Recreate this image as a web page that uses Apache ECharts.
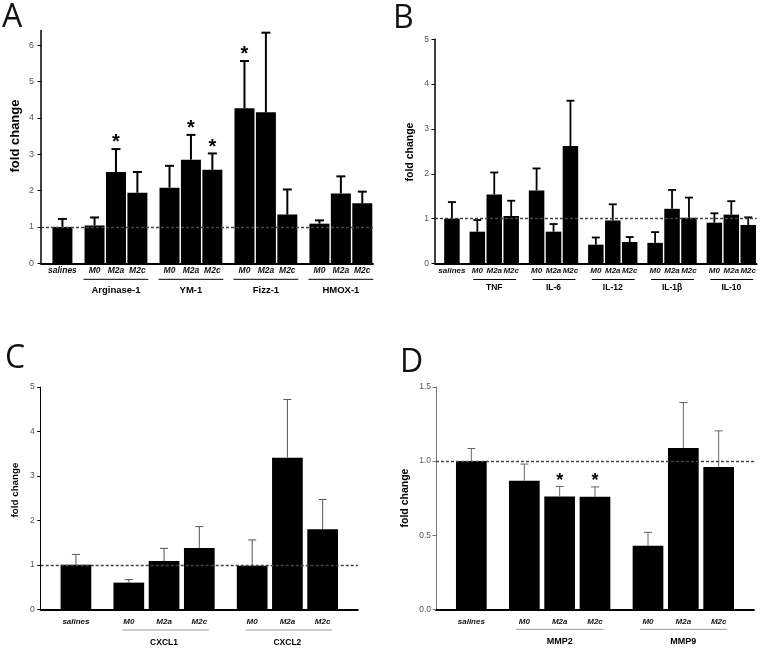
<!DOCTYPE html>
<html><head><meta charset="utf-8">
<script src="https://cdn.jsdelivr.net/npm/echarts@6/dist/echarts.min.js"></script>
<style>html,body{margin:0;padding:0;background:#fff}#c{width:762px;height:648px}</style>
</head><body><div id="c"></div>
<script>
// ---------------- data ----------------
const subLabels = ['M0', 'M2a', 'M2c'];
const salinesLabel = 'salines';
const yName = 'fold change';

const A_groups = ['Arginase-1', 'YM-1', 'Fizz-1', 'HMOX-1'];
const A_salines = 1.00, A_salinesErr = 1.22;
const A_values = [1.04, 2.51, 1.94, 2.08, 2.85, 2.57, 4.26, 4.15, 1.34, 1.09, 1.92, 1.65];
const A_errTop = [1.26, 3.14, 2.51, 2.68, 3.53, 3.02, 5.56, 6.34, 2.03, 1.18, 2.39, 1.97];
const A_stars  = [0, 1, 0, 0, 1, 1, 1, 0, 0, 0, 0, 0];
const A_yTicks = [0, 1, 2, 3, 4, 5, 6];

const B_groups = ['TNF', 'IL-6', 'IL-12', 'IL-1β', 'IL-10'];
const B_salines = 1.00, B_salinesErr = 1.37;
const B_values = [0.71, 1.54, 1.06, 1.63, 0.71, 2.62, 0.42, 0.96, 0.48, 0.46, 1.22, 1.02, 0.91, 1.09, 0.86];
const B_errTop = [0.97, 2.03, 1.40, 2.12, 0.88, 3.63, 0.58, 1.32, 0.59, 0.70, 1.64, 1.47, 1.12, 1.39, 1.03];
const B_stars  = [0, 0, 0, 0, 0, 0, 0, 0, 0, 0, 0, 0, 0, 0, 0];
const B_yTicks = [0, 1, 2, 3, 4, 5];

const C_groups = ['CXCL1', 'CXCL2'];
const C_salines = 1.00, C_salinesErr = 1.235;
const C_values = [0.60, 1.085, 1.38, 0.98, 3.41, 1.80];
const C_errTop = [0.67, 1.37, 1.86, 1.56, 4.72, 2.47];
const C_stars  = [0, 0, 0, 0, 0, 0];
const C_yTicks = [0, 1, 2, 3, 4, 5];

const D_groups = ['MMP2', 'MMP9'];
const D_salines = 1.00, D_salinesErr = 1.085;
const D_values = [0.867, 0.761, 0.759, 0.429, 1.089, 0.961];
const D_errTop = [0.98, 0.829, 0.826, 0.519, 1.395, 1.204];
const D_stars  = [0, 1, 1, 0, 0, 0];
const D_yTicks = [0, 0.5, 1.0, 1.5];

const refLine = 1;

// ---------------- layout / style ----------------
const FONT = '"Liberation Sans", Arial, sans-serif';
const panels = [
  { letter: 'A', lx: 2, ly: 2,
    grid: { left: 41, top: 30.5, width: 332, height: 232.8 },
    nCat: 32, sal: 2, g0: 5, gStep: 7, mStep: 2, yMax: 6.4, dec: 0,
    barW: 20, errColor: '#000', errW: 2, cap: 4.5, yAxisColor: '#000', yAxisW: 1.5,
    tickFs: 9, tickMargin: 7, catFs: 8.5, catMargin: 3, grpFs: 9.5, ulY: 16, glY: 27.5, ulL: -11, ulR: 11, ulColor: '#000',
    nameX: 15, nameY: 136, nameFs: 13, starFs: 20, starGap: 11,
    data: { groups: A_groups, salines: A_salines, salinesErr: A_salinesErr, values: A_values, errTop: A_errTop, stars: A_stars, ticks: A_yTicks } },
  { letter: 'B', lx: 393, ly: 3,
    grid: { left: 435, top: 39.3, width: 321.7, height: 224.2 },
    nCat: 39, sal: 2, g0: 5, gStep: 7, mStep: 2, yMax: 5, dec: 0,
    barW: 15.5, errColor: '#000', errW: 1.8, cap: 4, yAxisColor: '#000', yAxisW: 1.5,
    tickFs: 8.5, tickMargin: 6, catFs: 8, catMargin: 3, grpFs: 8.5, ulY: 16, glY: 24.5, ulL: -4, ulR: 5, ulColor: '#000',
    nameX: 410, nameY: 152, nameFs: 10.5, starFs: 18, starGap: 10,
    data: { groups: B_groups, salines: B_salines, salinesErr: B_salinesErr, values: B_values, errTop: B_errTop, stars: B_stars, ticks: B_yTicks } },
  { letter: 'C', lx: 5, ly: 343,
    grid: { left: 40.7, top: 387, width: 317.2, height: 222.3 },
    nCat: 19, sal: 2, g0: 5, gStep: 7, mStep: 2, yMax: 5, dec: 0,
    barW: 30.7, errColor: '#555', errW: 1, cap: 4, yAxisColor: '#000', yAxisW: 1,
    tickFs: 8.5, tickMargin: 6, catFs: 8, catMargin: 8, grpFs: 8.5, ulY: 20.7, glY: 33.4, ulL: -6.5, ulR: 9.5, ulColor: '#999',
    nameX: 15, nameY: 490, nameFs: 9.8, starFs: 18, starGap: 10,
    data: { groups: C_groups, salines: C_salines, salinesErr: C_salinesErr, values: C_values, errTop: C_errTop, stars: C_stars, ticks: C_yTicks } },
  { letter: 'D', lx: 400, ly: 347,
    grid: { left: 436, top: 387, width: 318, height: 222.3 },
    nCat: 19, sal: 2, g0: 5, gStep: 7, mStep: 2, yMax: 1.5, dec: 1,
    barW: 30.7, errColor: '#666', errW: 1, cap: 4, yAxisColor: '#777', yAxisW: 1,
    tickFs: 8.5, tickMargin: 5, catFs: 8, catMargin: 8, grpFs: 9, ulY: 20, glY: 32, ulL: -8, ulR: 8.5, ulColor: '#999',
    nameX: 405, nameY: 498, nameFs: 10.5, starFs: 18, starGap: 10,
    data: { groups: D_groups, salines: D_salines, salinesErr: D_salinesErr, values: D_values, errTop: D_errTop, stars: D_stars, ticks: D_yTicks } }
];

const grids = [], xAxes = [], yAxes = [], series = [], graphics = [];

panels.forEach((p, pi) => {
  const d = p.data;
  const cats = new Array(p.nCat).fill('');
  const vals = new Array(p.nCat).fill('-');
  const errs = [];
  const grp = [];
  cats[p.sal] = salinesLabel;
  vals[p.sal] = d.salines;
  errs.push([p.sal, d.salines, d.salinesErr, 0]);
  d.groups.forEach((g, gi) => {
    const idxs = [];
    subLabels.forEach((s, si) => {
      const idx = p.g0 + gi * p.gStep + si * p.mStep;
      const k = gi * subLabels.length + si;
      cats[idx] = s;
      vals[idx] = d.values[k];
      errs.push([idx, d.values[k], d.errTop[k], d.stars[k]]);
      idxs.push(idx);
    });
    grp.push([idxs[1], 0, idxs[0], idxs[idxs.length - 1]]);
  });

  grids.push(Object.assign({ containLabel: false }, p.grid));
  xAxes.push({
    type: 'category', gridIndex: pi, data: cats, boundaryGap: false,
    axisLine: { lineStyle: { color: '#000', width: 1.8 } },
    axisTick: { show: false },
    axisLabel: { interval: 0, margin: p.catMargin, fontSize: p.catFs, fontStyle: 'italic', fontWeight: 'bold',
      color: '#111', fontFamily: FONT },
    splitLine: { show: false }
  });
  yAxes.push({
    type: 'value', gridIndex: pi, min: 0, max: p.yMax,
    axisLine: { show: true, lineStyle: { color: p.yAxisColor, width: p.yAxisW } },
    axisTick: { show: true, inside: false, length: 3.5, customValues: d.ticks, lineStyle: { color: p.yAxisColor, width: 1 } },
    axisLabel: { customValues: d.ticks, fontSize: p.tickFs, color: '#555', margin: p.tickMargin, fontFamily: FONT,
      formatter: v => Number(v).toFixed(p.dec) },
    splitLine: { show: false }
  });
  series.push({
    type: 'bar', xAxisIndex: pi, yAxisIndex: pi, data: vals, barWidth: p.barW,
    itemStyle: { color: '#000' }, z: 2, silent: true,
    markLine: { silent: true, symbol: 'none', label: { show: false },
      lineStyle: { type: [3, 2], color: '#444', width: 1.3 }, data: [{ yAxis: refLine }] }
  });
  series.push({
    type: 'custom', xAxisIndex: pi, yAxisIndex: pi, data: errs, z: 3, silent: true,
    encode: { x: 0, y: 1 },
    renderItem: (params, api) => {
      const x = api.value(0), v = api.value(1), e = api.value(2), st = api.value(3);
      const p0 = api.coord([x, v]), p1 = api.coord([x, e]);
      const st0 = { stroke: p.errColor, lineWidth: p.errW };
      const ch = [
        { type: 'line', shape: { x1: p0[0], y1: p0[1], x2: p1[0], y2: p1[1] }, style: st0 },
        { type: 'line', shape: { x1: p1[0] - p.cap, y1: p1[1], x2: p1[0] + p.cap, y2: p1[1] }, style: st0 }
      ];
      if (st) {
        ch.push({ type: 'text', x: p1[0], y: p1[1] - p.starGap + 0.23 * p.starFs,
          style: { text: '*', fontSize: p.starFs, fontWeight: 'bold', fontFamily: FONT, fill: '#000',
            align: 'center', verticalAlign: 'middle' } });
      }
      return { type: 'group', children: ch };
    }
  });
  series.push({
    type: 'custom', xAxisIndex: pi, yAxisIndex: pi, data: grp, z: 3, silent: true,
    encode: { x: 0, y: 1 },
    renderItem: (params, api) => {
      const c = api.coord([api.value(0), 0]);
      const a = api.coord([api.value(2), 0]);
      const b = api.coord([api.value(3), 0]);
      return { type: 'group', children: [
        { type: 'line', shape: { x1: a[0] + p.ulL, y1: a[1] + p.ulY, x2: b[0] + p.ulR, y2: a[1] + p.ulY },
          style: { stroke: p.ulColor, lineWidth: 1 } },
        { type: 'text', x: c[0], y: a[1] + p.glY,
          style: { text: d.groups[params.dataIndex], fontSize: p.grpFs, fontWeight: 'bold', fontFamily: FONT,
            fill: '#000', align: 'center', verticalAlign: 'middle' } }
      ] };
    }
  });
  graphics.push({ type: 'text', left: p.lx, top: p.ly, silent: true,
    style: { text: p.letter, fontSize: 32, fontFamily: '"Open Sans", "Noto Sans", sans-serif', fill: '#111' } });
  graphics.push({ type: 'text', x: p.nameX, y: p.nameY, rotation: Math.PI / 2, silent: true,
    style: { text: yName, fontSize: p.nameFs, fontWeight: 'bold', fontFamily: FONT, fill: '#000',
      align: 'center', verticalAlign: 'middle' } });
});

const chart = echarts.init(document.getElementById('c'), null, { renderer: 'canvas' });
chart.setOption({
  animation: false,
  backgroundColor: '#fff',
  grid: grids, xAxis: xAxes, yAxis: yAxes, series: series, graphic: graphics
});
</script>
</body></html>
